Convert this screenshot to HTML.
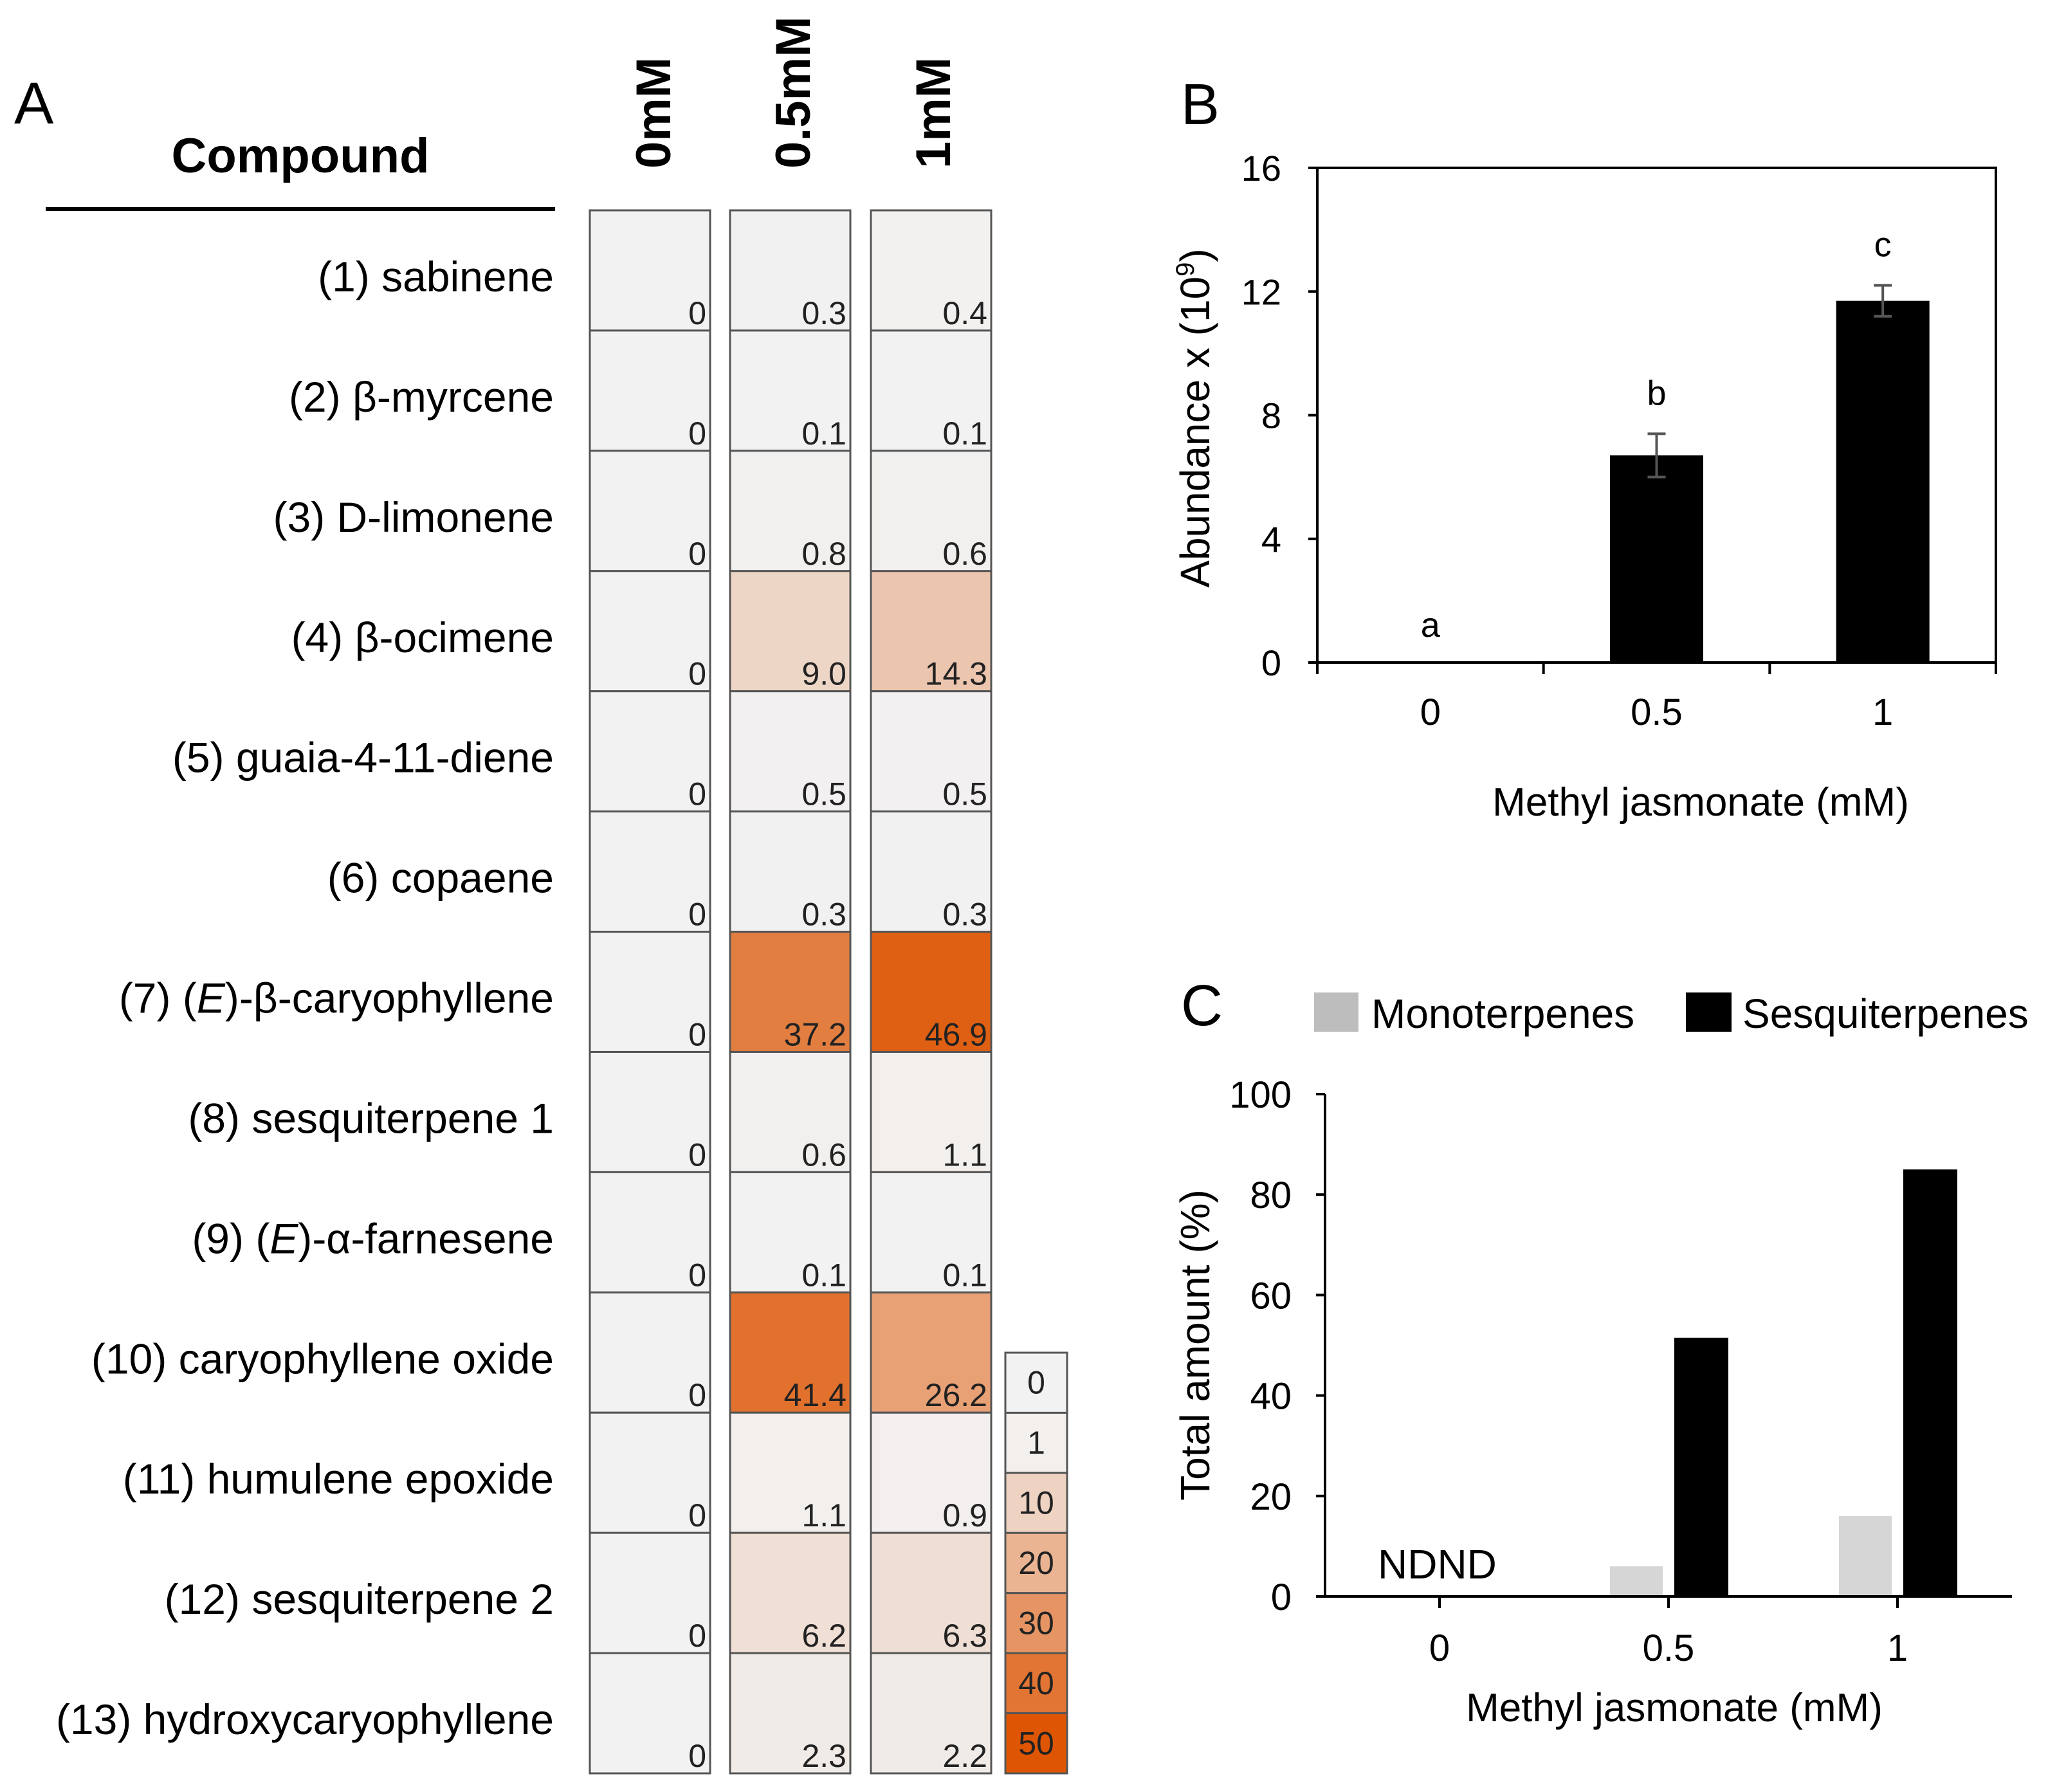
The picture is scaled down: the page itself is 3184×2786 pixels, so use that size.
<!DOCTYPE html>
<html><head><meta charset="utf-8">
<style>
html,body{margin:0;padding:0;background:#fff;}
svg{display:block;font-family:"Liberation Sans",Arial,sans-serif;}
</style></head>
<body>
<svg id="fig" width="3184" height="2786" viewBox="0 0 3184 2786" xmlns="http://www.w3.org/2000/svg">
  <g id="panelA">
    <text x="22" y="192" font-size="92">A</text>
    <text x="467" y="268" font-size="76" font-weight="bold" text-anchor="middle">Compound</text>
    <rect x="71" y="322" width="792" height="6" fill="#000"/>
    <g id="colHeaders"></g>
    <g id="rowLabels"></g>
    <g id="cells"></g>
    <g id="legendA"></g>
  </g>
  <g id="panelB">
    <text x="1836" y="193" font-size="90">B</text>
  </g>
  <g id="panelC">
    <text x="1836" y="1594" font-size="90">C</text>
  </g>
</svg>
<script>
// ---------- Panel A data ----------
const compounds = ["(1) sabinene","(2) β-myrcene","(3) D-limonene","(4) β-ocimene","(5) guaia-4-11-diene","(6) copaene","(7) (E)-β-caryophyllene","(8) sesquiterpene 1","(9) (E)-α-farnesene","(10) caryophyllene oxide","(11) humulene  epoxide","(12) sesquiterpene 2","(13) hydroxycaryophyllene"];
const treatments = ["0mM","0.5mM","1mM"];
const vals0 = [0,0,0,0,0,0,0,0,0,0,0,0,0];
const vals05 = [0.3,0.1,0.8,9.0,0.5,0.3,37.2,0.6,0.1,41.4,1.1,6.2,2.3];
const vals1 = [0.4,0.1,0.6,14.3,0.5,0.3,46.9,1.1,0.1,26.2,0.9,6.3,2.2];
const scaleTicks = [0,1,10,20,30,40,50];
// ---------- Panel B data ----------
const bCategories = ["0","0.5","1"];
const bValues = [0,6.7,11.7];
const bErrors = [0,0.7,0.5];
const bLetters = ["a","b","c"];
const bTicks = [0,4,8,12,16];
// ---------- Panel C data ----------
const cCategories = ["0","0.5","1"];
const cMono = [0,6,16];
const cSesq = [0,51.5,85];
const cTicks = [0,20,40,60,80,100];

const NS="http://www.w3.org/2000/svg";
function mk(tag,attrs,parent,text){const e=document.createElementNS(NS,tag);for(const k in attrs)e.setAttribute(k,attrs[k]);if(text!==undefined)e.textContent=text;parent.appendChild(e);return e;}

function heatColor(v){const t=Math.min(v/50,1);const a=[242,242,242],b=[222,86,4];
  return "rgb("+a.map((x,i)=>Math.round(x+(b[i]-x)*t)).join(",")+")";}

const colX=[917,1135,1354], colW=187;
const rowTop=327, rowH=(2757-327)/13;
const colCenters=[1015,1232,1450];
const headG=document.getElementById('colHeaders');
treatments.forEach((t,i)=>{
  const e=mk('text',{x:0,y:0,'font-size':76,'font-weight':'bold',transform:`translate(${colCenters[i]+27},262) rotate(-90)`},headG,t);
  
  
});
const rowG=document.getElementById('rowLabels');
compounds.forEach((c,i)=>{
  const e=mk('text',{x:861,y:rowTop+i*rowH+126,'font-size':66,'text-anchor':'end'},rowG);
  const m=c.match(/^(.*)\((E)\)(.*)$/);
  if(m){mk('tspan',{},e,m[1]+'(');mk('tspan',{'font-style':'italic'},e,'E');mk('tspan',{},e,')'+m[3]);}
  else e.textContent=c;
  
  
});
const cellG=document.getElementById('cells');
const cols=[vals0,vals05,vals1];
cols.forEach((arr,ci)=>{
  arr.forEach((v,ri)=>{
    const y=rowTop+ri*rowH;
    const r=mk('rect',{x:colX[ci],y:y,width:colW,height:rowH,fill:heatColor(v),stroke:'#555','stroke-width':3},cellG);
    
    
    const lab=(ci===0)?String(v):v.toFixed(1);
    const t=mk('text',{x:colX[ci]+colW-6,y:y+rowH-10,'font-size':50,'text-anchor':'end',fill:'#222'},cellG,lab);
    
    
  });
});
const legG=document.getElementById('legendA');
const legTop=2103, legH=(2757-2103)/7;
scaleTicks.forEach((v,i)=>{
  const r=mk('rect',{x:1563,y:legTop+i*legH,width:96,height:legH,fill:heatColor(v),stroke:'#555','stroke-width':3},legG);
  
  
  const t=mk('text',{x:1611,y:legTop+i*legH+legH/2+17,'font-size':50,'text-anchor':'middle',fill:'#222'},legG,String(v));
  
  
});

// ---------- Panel B ----------
const pB=document.getElementById('panelB');
const bL=2048,bR=3103,bT=261,bB=1030,bMax=16;
const byS=v=>bB-(v/bMax)*(bB-bT);
const bCatW=(bR-bL)/bCategories.length;
const bxS=i=>bL+bCatW*(i+0.5);
bTicks.forEach(v=>{
  const l=mk('line',{x1:bL-14,x2:bL,y1:byS(v),y2:byS(v),stroke:'#000','stroke-width':4},pB);
  
  
  const t=mk('text',{x:1992,y:byS(v)+20,'font-size':56,'text-anchor':'end'},pB,String(v));
  
  
});
bCategories.forEach((c,i)=>{
  const v=bValues[i],w=145,cx=bxS(i);
  const r=mk('rect',{x:cx-w/2,y:byS(v),width:w,height:bB-byS(v),fill:'#000'},pB);
  
  
  if(bErrors[i]>0){
    const g=mk('g',{stroke:'#555','stroke-width':4},pB);
    
    
    mk('line',{x1:cx,x2:cx,y1:byS(v-bErrors[i]),y2:byS(v+bErrors[i])},g);
    mk('line',{x1:cx-14,x2:cx+14,y1:byS(v-bErrors[i]),y2:byS(v-bErrors[i])},g);
    mk('line',{x1:cx-14,x2:cx+14,y1:byS(v+bErrors[i]),y2:byS(v+bErrors[i])},g);
  }
  const ly=byS(v+bErrors[i])-(v>0?45:0)-(v>0?0:40);
  const lt=mk('text',{x:cx,y:ly,'font-size':54,'text-anchor':'middle'},pB,bLetters[i]);
  
  
  const xt=mk('text',{x:cx,y:1127,'font-size':58,'text-anchor':'middle'},pB,c);
  
  
});
for(let i=0;i<=bCategories.length;i++){
  const x=bL+bCatW*i;
  const l=mk('line',{x1:x,x2:x,y1:bB,y2:bB+18,stroke:'#000','stroke-width':4},pB);
  
  
}
const frame=mk('rect',{x:bL,y:bT,width:bR-bL,height:bB-bT,fill:'none',stroke:'#000','stroke-width':4},pB);


const bxTitle=mk('text',{x:2644,y:1268,'font-size':62,'text-anchor':'middle'},pB,'Methyl jasmonate (mM)');


const byTitle=mk('text',{x:0,y:0,'font-size':64,'text-anchor':'middle',transform:'translate(1880,650) rotate(-90)'},pB);
mk('tspan',{},byTitle,'Abundance x (10');
mk('tspan',{'font-size':40,dy:-24},byTitle,'9');
mk('tspan',{dy:24},byTitle,')');



// ---------- Panel C ----------
const pC=document.getElementById('panelC');
const cL=2060,cR=3128,cT=1701,cB=2482,cMax=100;
const cyS=v=>cB-(v/cMax)*(cB-cT);
const cCatW=(cR-cL)/cCategories.length;
const cxS=i=>cL+cCatW*(i+0.5);
const sw1=mk('rect',{x:2043,y:1543,width:69,height:61,fill:'#bdbdbd'},pC);


const lt1=mk('text',{x:2132,y:1598,'font-size':64},pC,'Monoterpenes');


const sw2=mk('rect',{x:2621,y:1543,width:71,height:61,fill:'#000'},pC);


const lt2=mk('text',{x:2709,y:1598,'font-size':64},pC,'Sesquiterpenes');


cTicks.forEach(v=>{
  const l=mk('line',{x1:cL-14,x2:cL,y1:cyS(v),y2:cyS(v),stroke:'#000','stroke-width':4},pC);
  
  
  const t=mk('text',{x:2008,y:cyS(v)+21,'font-size':58,'text-anchor':'end'},pC,String(v));
  
  
});
cCategories.forEach((c,i)=>{
  const cx=cxS(i);
  if(cMono[i]>0){
    const r=mk('rect',{x:cx-91,y:cyS(cMono[i]),width:82,height:cB-cyS(cMono[i]),fill:'#d6d6d6'},pC);
    
    
  }
  if(cSesq[i]>0){
    const r=mk('rect',{x:cx+9,y:cyS(cSesq[i]),width:84,height:cB-cyS(cSesq[i]),fill:'#000'},pC);
    
    
  }
  const tk=mk('line',{x1:cx,x2:cx,y1:cB,y2:cB+18,stroke:'#000','stroke-width':4},pC);
  
  
  const xt=mk('text',{x:cx,y:2582,'font-size':58,'text-anchor':'middle'},pC,c);
  
  
});
const nd=mk('text',{x:2142,y:2454,'font-size':64},pC,'NDND');


const ax=mk('path',{d:`M${cL},${cT} V${cB} H${cR}`,fill:'none',stroke:'#000','stroke-width':4},pC);


const cxTitle=mk('text',{x:2603,y:2676,'font-size':62,'text-anchor':'middle'},pC,'Methyl jasmonate (mM)');


const cyTitle=mk('text',{x:0,y:0,'font-size':64,'text-anchor':'middle',transform:'translate(1880,2091) rotate(-90)'},pC,'Total amount  (%)');


</script>
</body></html>
